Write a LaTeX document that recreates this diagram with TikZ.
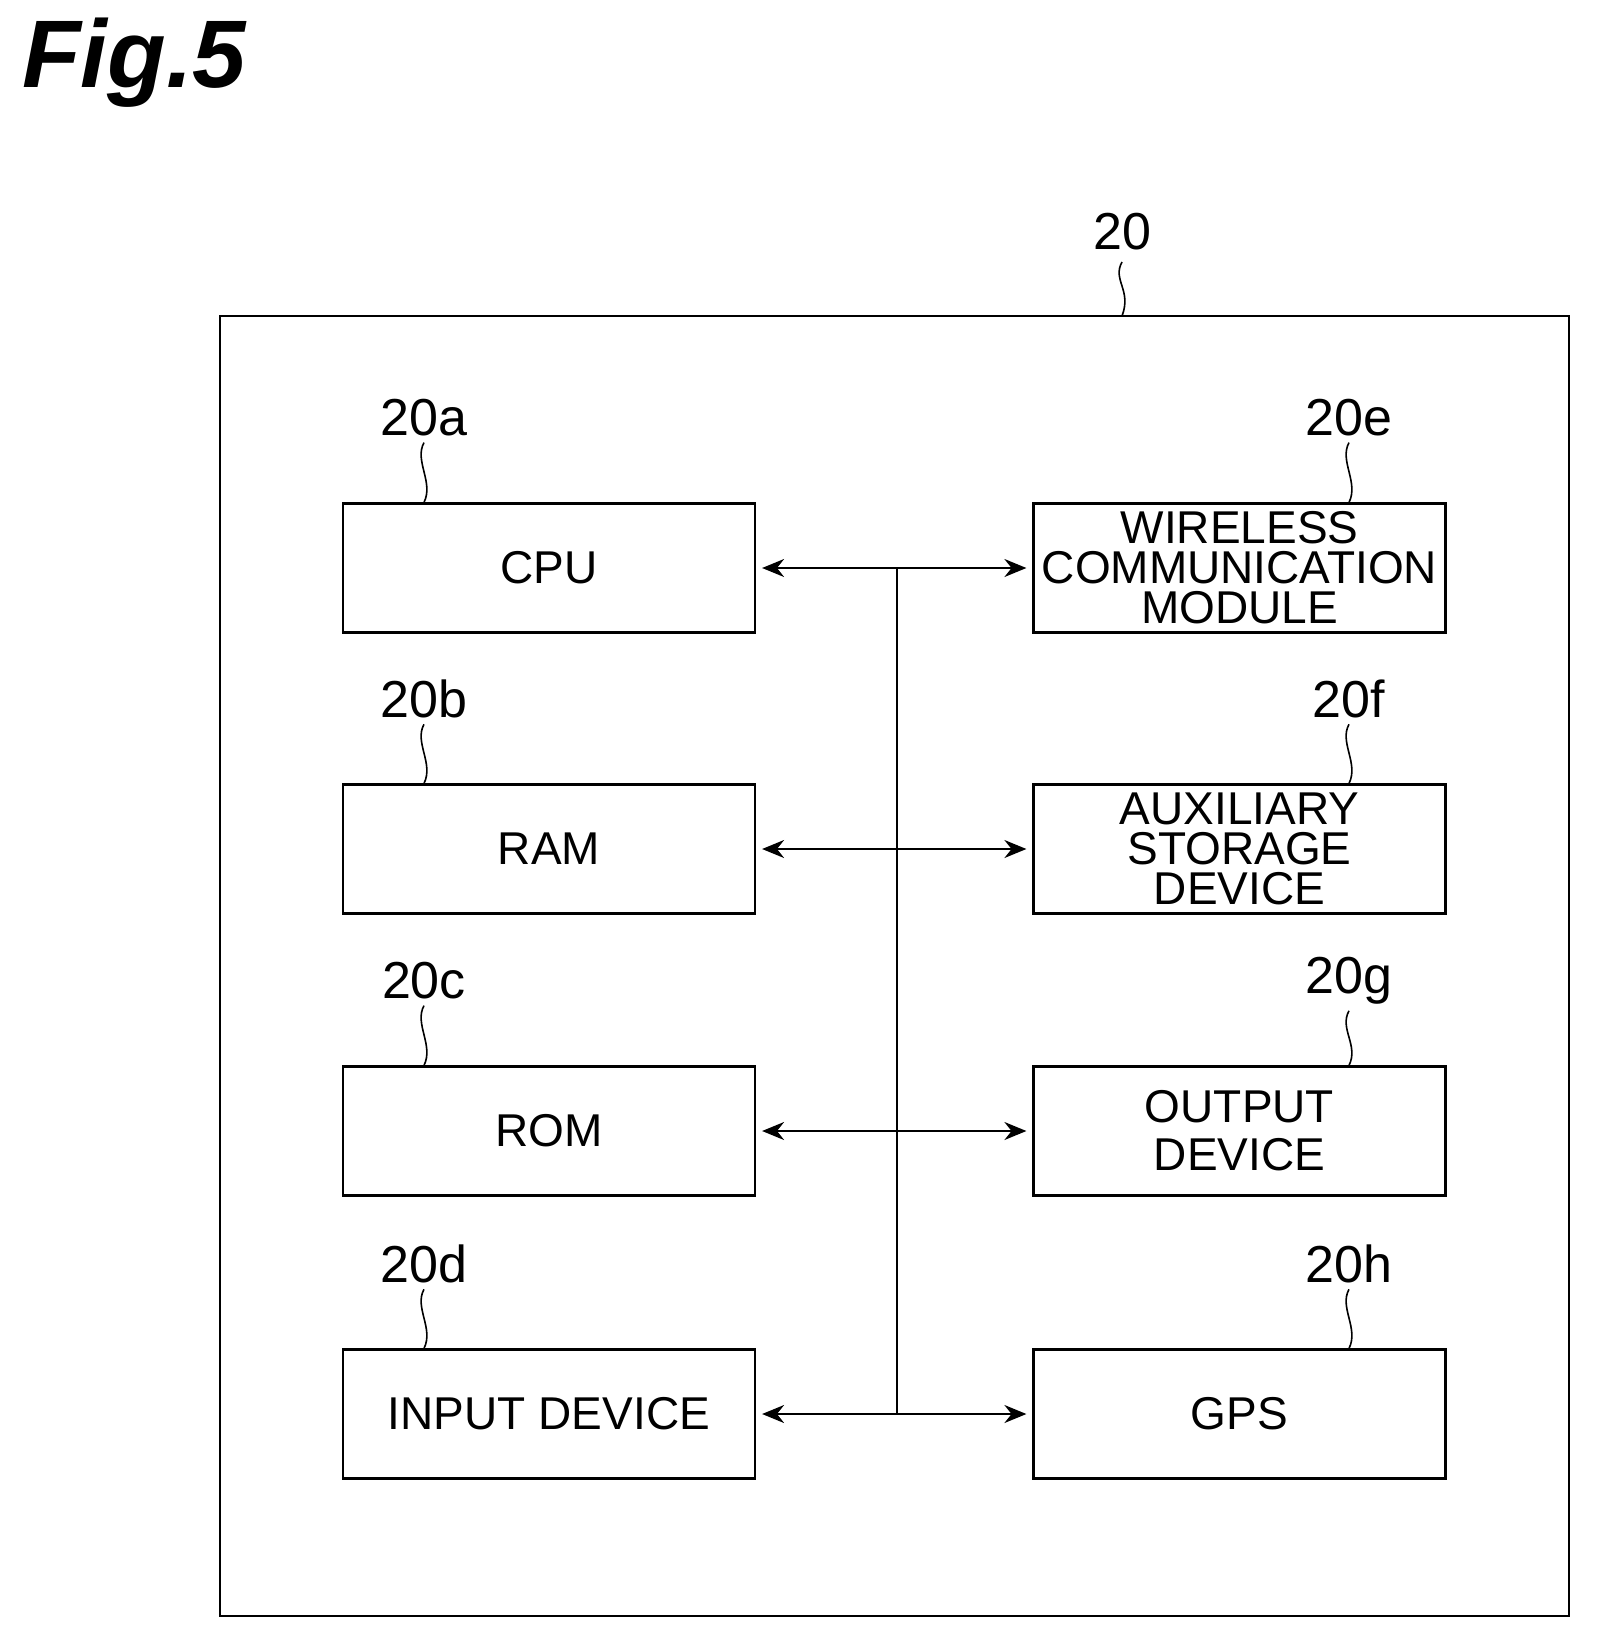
\documentclass[tikz,border=0pt]{standalone}
\usepackage{fontspec}
\setmainfont{Liberation Sans}
\usetikzlibrary{arrows.meta}
\begin{document}
\begin{tikzpicture}[x=1pt,y=-1pt,
  box/.style={draw,line width=2.2pt,minimum width=412pt,minimum height=129pt,inner sep=0pt,align=center,font=\fontsize{46}{40}\selectfont},
  lbl/.style={font=\fontsize{52}{52}\selectfont,inner sep=0pt},
  sq/.style={line width=1.6pt},
  ar/.style={line width=2pt,{Stealth[length=22pt,width=18pt]}-{Stealth[length=22pt,width=18pt]}}]
\useasboundingbox (0,0) rectangle (1600,1649);
\node[anchor=north west,inner sep=0pt,font=\fontsize{96}{96}\selectfont\bfseries\itshape] (fig) at (22,18) {Fig.5};
\node[draw,line width=2.4pt,minimum width=1349pt,minimum height=1300pt,inner sep=0pt] (outer) at (894.5,966) {};
\node[lbl] (l20) at (1122,232) {20};
\draw[sq] (1122,262) .. controls (1112,280) and (1132,290) .. (1122,316);
\foreach \n/\t/\y/\l in {a/CPU/568/a,b/RAM/849/b,c/ROM/1131/c,d/INPUT DEVICE/1414/d}{
  \node[box] (\n) at (549,\y) {\t};
  \node[lbl] (l\n) at (424,\y-150) {20\l};
  \draw[sq] (l\n.south) ++(0,6) .. controls +(-10,18) and +(10,-20) .. (\n.north -| l\n);
}
\node[box] (e) at (1239.5,568) {WIRELESS\\COMMUNICATION\\MODULE};
\node[box] (f) at (1239.5,849) {AUXILIARY\\STORAGE\\DEVICE};
\node[box,font=\fontsize{46}{48}\selectfont] (g) at (1239.5,1131) {OUTPUT\\DEVICE};
\node[box] (h) at (1239.5,1414) {GPS};
\foreach \n/\y in {e/568,f/849,g/1131,h/1414}{
  \node[lbl] (l\n) at (1349,\y-150) {20\n};
  \draw[sq] (l\n.south) ++(0,6) .. controls +(-10,18) and +(10,-20) .. (\n.north -| l\n);
}
\coordinate (bt) at (897,568);
\coordinate (bb) at (897,1414);
\draw[line width=2pt] (bt) -- (bb);
\foreach \l/\r in {a/e,b/f,c/g,d/h}{
  \draw[ar] ([xshift=6pt]\l.east) -- ([xshift=-6pt]\r.west);
}
\end{tikzpicture}
\end{document}
